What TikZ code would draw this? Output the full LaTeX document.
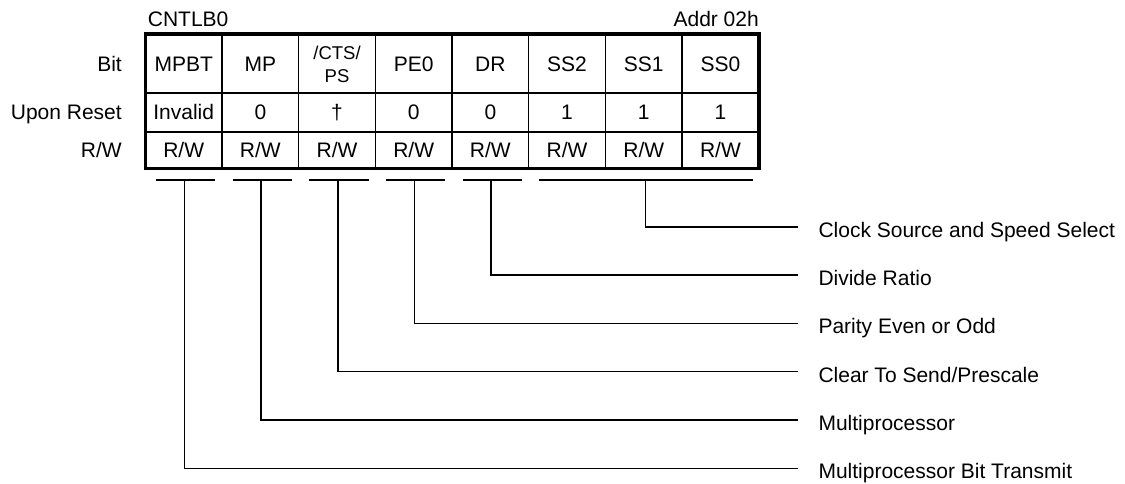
\documentclass[tikz,border=0pt]{standalone}
\usepackage{fontspec}
\setmainfont{Liberation Sans}
\begin{document}
\begin{tikzpicture}[x=1pt,y=-1pt]
\tikzset{
  txt/.style={font=\fontsize{21}{25}\selectfont, inner sep=0pt},
  smalltxt/.style={font=\fontsize{18.5}{23}\selectfont, inner sep=0pt},
  gridline/.style={line width=1.6pt},
  frameline/.style={line width=3.6pt},
  conn/.style={line width=1.6pt},
}
\useasboundingbox (0,0) rectangle (1125,483);

% grid
\draw[gridline] (145.3,92.7) -- (758.7,92.7);
\draw[gridline] (145.3,131.7) -- (758.7,131.7);
\foreach \i in {1,...,7} {
  \draw[gridline] ({145.3+76.675*\i},34) -- ({145.3+76.675*\i},168.3);
}
\draw[frameline] (145.3,34) rectangle (758.7,168.3);

% headings
\node[txt,anchor=base west] (reg) at (147.7,26) {CNTLB0};
\node[txt,anchor=base east] (addr) at (759,26) {Addr 02h};
\node[txt,anchor=base east] (lbit) at (122,71.5) {Bit};
\node[txt,anchor=base east] (lres) at (122,119.3) {Upon Reset};
\node[txt,anchor=base east] (lrw) at (122,157.3) {R/W};

% bit names
\foreach \t [count=\i from 0] in {MPBT,MP} {
  \node[txt,anchor=base] (b\i) at ({183.7+76.675*\i},71.5) {\t};
}
\node[smalltxt,anchor=base] (b2) at ({183.7+76.675*2},59.3) {/CTS/};
\node[smalltxt,anchor=base] (b2p) at ({183.7+76.675*2},82.7) {PS};
\foreach \t [count=\i from 3] in {PE0,DR,SS2,SS1,SS0} {
  \node[txt,anchor=base] (b\i) at ({183.7+76.675*\i},71.5) {\t};
}
% reset values
\foreach \t [count=\i from 0] in {Invalid,0,†,0,0,1,1,1} {
  \node[txt,anchor=base] (r\i) at ({183.7+76.675*\i},119.3) {\t};
}
% access
\foreach \i in {0,...,7} {
  \node[txt,anchor=base] (w\i) at ({183.7+76.675*\i},157.3) {R/W};
}

% brackets and connectors
\foreach \i/\y/\t in {0/468.3/Multiprocessor Bit Transmit,
                      1/420/Multiprocessor,
                      2/371.6/Clear To Send\slash Prescale,
                      3/323.3/Parity Even or Odd,
                      4/275/Divide Ratio} {
  \coordinate (k\i) at ({184.3+76.7*\i},180);
  \draw[conn] ([xshift=-28.3pt]k\i) -- ([xshift=31pt]k\i);
  \coordinate (e\i) at (798.3,\y);
  \draw[conn] (k\i) |- (e\i);
  \node[txt,anchor=base west] (d\i) at (818.3,\y+10.5) {\t};
}
\coordinate (k5) at (645.3,180);
\draw[conn] (539.3,180) -- (752.5,180);
\coordinate (e5) at (798.3,226.7);
\draw[conn] (k5) |- (e5);
\node[txt,anchor=base west] (d5) at (818.3,237.2) {Clock Source and Speed Select};
\end{tikzpicture}
\end{document}
